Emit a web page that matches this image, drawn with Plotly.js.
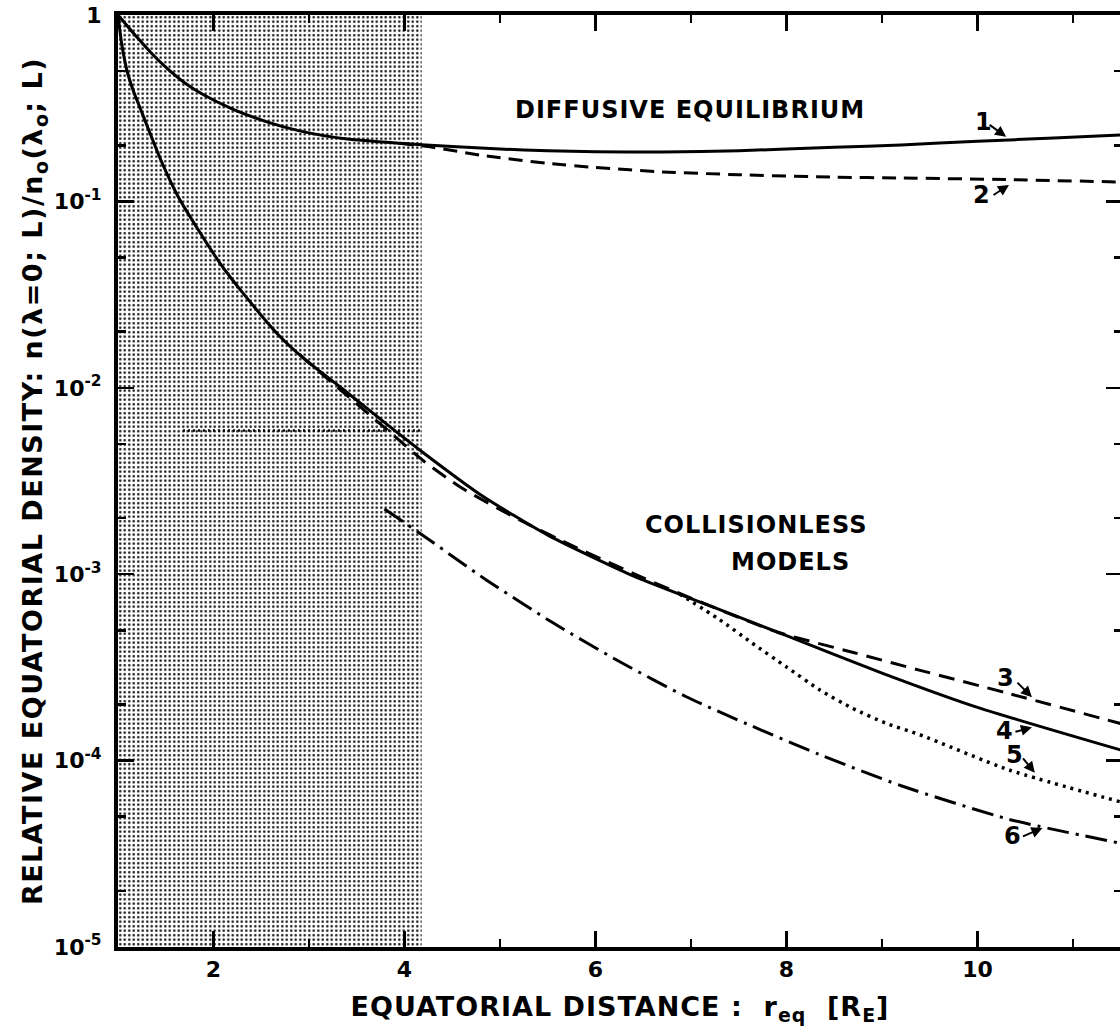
<!DOCTYPE html>
<html>
<head>
<meta charset="utf-8">
<script src="https://cdn.plot.ly/plotly-3.0.1.min.js"></script>
<style>
  html, body { margin: 0; padding: 0; overflow: hidden; background: #fff; }
  #chart { width: 1130px; height: 1030px; }
  .xtitle { letter-spacing: 1px; }
  .ytitle { letter-spacing: 1.5px; }
  .annotation-text { letter-spacing: 1px; }
</style>
</head>
<body>
<div id="chart"></div>
<script>
// ---- Data ----
// Curve 1: diffusive equilibrium (solid)
const xCurve1 = [1.0, 1.1, 1.2, 1.35, 1.5, 1.7, 1.9, 2.2, 2.55, 2.9, 3.4, 3.95, 4.5, 5.0, 5.5, 6.0, 6.7, 7.5, 8.5, 9.2, 10.0, 10.8, 11.5];
const yCurve1 = [1.0, 0.871, 0.759, 0.624, 0.525, 0.432, 0.372, 0.313, 0.268, 0.239, 0.216, 0.205, 0.197, 0.191, 0.187, 0.1845, 0.184, 0.187, 0.195, 0.201, 0.210, 0.219, 0.227];
// Curve 2: diffusive equilibrium (dashed)
const xCurve2 = [3.95, 4.3, 4.8, 5.5, 6.0, 6.7, 7.5, 8.5, 9.2, 10.3, 11.5];
const yCurve2 = [0.205, 0.195, 0.177, 0.160, 0.152, 0.144, 0.139, 0.135, 0.1335, 0.131, 0.127];
// Curve 3: collisionless (dashed)
const xCurve3 = [2.9, 3.35, 3.82, 4.2, 4.6, 5.2, 5.8, 6.5, 7.2, 7.9, 8.7, 9.4, 10.3, 11.5];
const yCurve3 = [0.0151, 0.00955, 0.00594, 0.00405, 0.00290, 0.00196, 0.00139, 0.000955, 0.000676, 0.000490, 0.000380, 0.000305, 0.000231, 0.000158];
// Curve 4: collisionless (solid)
const xCurve4 = [1.0, 1.04, 1.1, 1.17, 1.24, 1.34, 1.45, 1.63, 1.85, 2.08, 2.36, 2.66, 2.95, 3.35, 3.8, 4.2, 4.8, 5.5, 6.4, 7.2, 8.0, 9.0, 10.0, 11.5];
const yCurve4 = [1.0, 0.692, 0.490, 0.380, 0.309, 0.229, 0.166, 0.106, 0.0692, 0.0457, 0.0299, 0.0197, 0.0143, 0.00989, 0.00646, 0.00447, 0.00266, 0.00162, 0.000977, 0.000676, 0.000468, 0.000295, 0.000193, 0.000114];
// Curve 5: collisionless (dotted)
const xCurve5 = [6.88, 7.3, 7.64, 8.0, 8.35, 8.69, 9.05, 9.39, 10.33, 11.5];
const yCurve5 = [0.000783, 0.000570, 0.000427, 0.000318, 0.000239, 0.000191, 0.000158, 0.000138, 0.0000891, 0.0000600];
// Curve 6: collisionless (dash-dot)
const xCurve6 = [3.79, 4.16, 4.86, 5.55, 6.25, 6.95, 7.64, 8.34, 9.2, 10.33, 11.5];
const yCurve6 = [0.00224, 0.00166, 0.000929, 0.000550, 0.000340, 0.000220, 0.000153, 0.000108, 0.0000733, 0.0000484, 0.0000360];
// Shaded region (x extent, y extent)
const shadeX = [1.0, 4.18];
const shadeY = [1e-5, 1.0];
// Dotted reference level
const refX = [1.68, 4.18];
const refY = [0.0059, 0.0059];
// Tick labels
const xTickVals = [2, 4, 6, 8, 10];
const xTickText = ['2', '4', '6', '8', '10'];
const yTickVals = [1, 1e-1, 1e-2, 1e-3, 1e-4, 1e-5];
const yTickText = ['1', '10<sup>-1</sup>', '10<sup>-2</sup>', '10<sup>-3</sup>', '10<sup>-4</sup>', '10<sup>-5</sup>'];
const yMinorVals = [0.5, 0.2, 0.05, 0.02, 0.005, 0.002, 0.0005, 0.0002, 0.00005, 0.00002];
// Curve labels, their places and the points their arrows touch
const labelText = ['1', '2', '3', '4', '5', '6'];
const labelX = [10.07, 10.05, 10.30, 10.29, 10.39, 10.37];
const labelY = [0.267, 0.108, 2.77e-4, 1.44e-4, 1.07e-4, 3.94e-5];
const tipX = [10.30, 10.33, 10.57, 10.57, 10.60, 10.68];
const tipY = [0.222, 0.1225, 2.19e-4, 1.51e-4, 8.6e-5, 4.35e-5];
const tailAX = [-18, -17, -16, -18, -13, -21];
const tailAY = [-13, 11, -16, 5, -16, 9];

const FONT = '"DejaVu Sans", "Liberation Sans", sans-serif';
const SM = 0.6;

const traces = [
  {
    x: [shadeX[0], shadeX[1], shadeX[1], shadeX[0], shadeX[0]],
    y: [shadeY[0], shadeY[0], shadeY[1], shadeY[1], shadeY[0]],
    mode: 'lines', fill: 'toself', line: {width: 0, color: 'rgba(0,0,0,0)'},
    fillcolor: '#ffffff',
    fillpattern: {shape: '.', fgcolor: '#1a1a1a', bgcolor: '#ffffff', size: 4.5, solidity: 0.24},
    hoverinfo: 'skip', showlegend: false
  },
  {x: refX, y: refY, mode: 'lines', line: {color: '#000', width: 2.5, dash: '2px,3px'}, showlegend: false, hoverinfo: 'skip'},
  {x: xCurve1, y: yCurve1, mode: 'lines', line: {color: '#000', width: 3, shape: 'spline', smoothing: SM}, name: '1'},
  {x: xCurve2, y: yCurve2, mode: 'lines', line: {color: '#000', width: 3, dash: '14px,8px', shape: 'spline', smoothing: SM}, name: '2'},
  {x: xCurve3, y: yCurve3, mode: 'lines', line: {color: '#000', width: 3, dash: '16px,9px', shape: 'spline', smoothing: SM}, name: '3'},
  {x: xCurve4, y: yCurve4, mode: 'lines', line: {color: '#000', width: 3, shape: 'spline', smoothing: SM}, name: '4'},
  {x: xCurve5, y: yCurve5, mode: 'lines', line: {color: '#000', width: 3.5, dash: '3px,5px', shape: 'spline', smoothing: SM}, name: '5'},
  {x: xCurve6, y: yCurve6, mode: 'lines', line: {color: '#000', width: 3, dash: '22px,7px,3px,7px', shape: 'spline', smoothing: SM}, name: '6'}
];

const annotations = [
  {x: 6.99, y: Math.log10(0.309), xref: 'x', yref: 'y', text: 'DIFFUSIVE EQUILIBRIUM', showarrow: false,
   font: {family: FONT, size: 24, color: '#000', weight: 'bold'}},
  {x: 7.68, y: Math.log10(1.84e-3), xref: 'x', yref: 'y', text: 'COLLISIONLESS', showarrow: false,
   font: {family: FONT, size: 24, color: '#000', weight: 'bold'}},
  {x: 8.04, y: Math.log10(1.16e-3), xref: 'x', yref: 'y', text: 'MODELS', showarrow: false,
   font: {family: FONT, size: 24, color: '#000', weight: 'bold'}}
];
for (let i = 0; i < labelText.length; i++) {
  annotations.push({x: labelX[i], y: Math.log10(labelY[i]), xref: 'x', yref: 'y', text: labelText[i], showarrow: false,
    font: {family: FONT, size: 24, color: '#000', weight: 'bold'}});
  annotations.push({x: tipX[i], y: Math.log10(tipY[i]), xref: 'x', yref: 'y', text: '', showarrow: true,
    ax: tailAX[i], ay: tailAY[i], arrowhead: 2, arrowsize: 1.1, arrowwidth: 2, arrowcolor: '#000', standoff: 0, startstandoff: 0});
}

const layout = {
  width: 1130, height: 1030,
  margin: {l: 118, r: 8, t: 15, b: 83},
  paper_bgcolor: '#fff', plot_bgcolor: '#fff',
  showlegend: false,
  font: {family: FONT, color: '#000'},
  xaxis: {
    range: [1, 11.513], showgrid: false, zeroline: false,
    showline: true, linecolor: '#000', linewidth: 4, mirror: 'ticks',
    ticks: 'inside', ticklen: 16, tickwidth: 2.5, tickcolor: '#000',
    tickmode: 'array', tickvals: xTickVals, ticktext: xTickText,
    tickfont: {family: FONT, size: 22, color: '#000', weight: 'bold'},
    minor: {ticks: 'inside', ticklen: 8, tickwidth: 2.5, tickcolor: '#000', dtick: 1, tick0: 0, showgrid: false},
    title: {text: 'EQUATORIAL DISTANCE :  r<sub>eq</sub>  [R<sub>E</sub>]', standoff: 17,
            font: {family: FONT, size: 27, color: '#000', weight: 'bold'}},
    automargin: false
  },
  yaxis: {
    type: 'log', range: [-5, 0], showgrid: false, zeroline: false,
    showline: true, linecolor: '#000', linewidth: 4, mirror: 'ticks',
    ticks: 'inside', ticklen: 16, tickwidth: 2.5, tickcolor: '#000',
    tickmode: 'array', tickvals: yTickVals, ticktext: yTickText, ticklabelstandoff: 8,
    tickfont: {family: FONT, size: 22, color: '#000', weight: 'bold'},
    minor: {ticks: 'inside', ticklen: 8, tickwidth: 2.5, tickcolor: '#000', tickmode: 'array', tickvals: yMinorVals, showgrid: false},
    title: {text: 'RELATIVE EQUATORIAL DENSITY: n(λ=0; L)/n<sub>o</sub>(λ<sub>o</sub>; L)', standoff: 4,
            font: {family: FONT, size: 27, color: '#000', weight: 'bold'}},
    automargin: false
  },
  annotations: annotations
};

Plotly.newPlot('chart', traces, layout, {displayModeBar: false, staticPlot: true});
</script>
</body>
</html>
